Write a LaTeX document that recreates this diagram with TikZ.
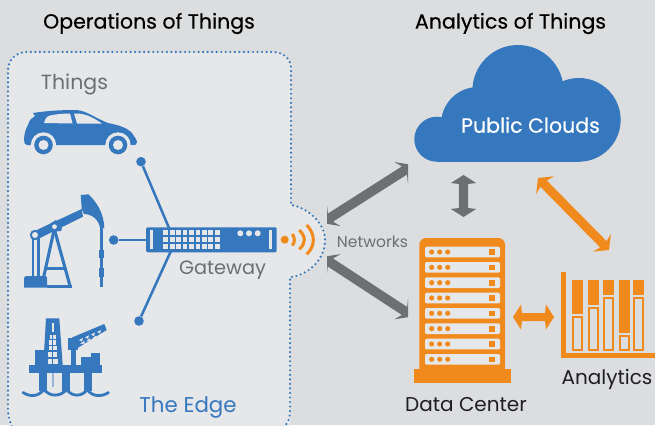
\documentclass[tikz,border=0pt]{standalone}
\usepackage{fontspec}
\setmainfont{Poppins}
\newfontfamily\medfont[FakeBold=0.35]{Poppins}
\usetikzlibrary{calc}
\definecolor{bggray}{HTML}{DCDDDF}
\definecolor{edgefill}{HTML}{E6E7E9}
\definecolor{bluemain}{HTML}{3578BE}
\definecolor{orangemain}{HTML}{F08A1D}
\definecolor{arrowgray}{HTML}{6E6F72}
\definecolor{labelgray}{HTML}{6D6E71}
\definecolor{darktext}{HTML}{1E1E20}
\tikzset{
  x=0.75pt,y=-0.75pt,
  title/.style={font=\medfont\fontsize{15.4}{17}\selectfont,text=black,anchor=center,inner sep=0},
  lab/.style={font=\fontsize{15}{17}\selectfont,text=labelgray,anchor=center,inner sep=0},
  dark/.style={font=\fontsize{15}{17}\selectfont,text=darktext,anchor=center,inner sep=0},
  wire/.style={draw=bluemain,line width=1.9pt},
  dot/.style={circle,fill=bluemain,inner sep=0,minimum size=7.2pt},
  jackline/.style={draw=bluemain,line width=2.3pt},
  wifi/.style={draw=orangemain,line width=2.3pt},
}
% double arrow between A and B; shaft half width, head half width, head length, neck position, in pixels
\newcommand{\dblarrow}[7][arrowgray]{%
 \fill[#1] let \p1=(#2),\p2=(#3),\n1={atan2(\y2-\y1,\x2-\x1)},\n2={veclen(\x2-\x1,\y2-\y1)},
  \n3={0.75*#4},\n4={0.75*#5},\n5={0.75*#6},\n6={0.75*#7} in
  [shift={(\p1)},rotate=\n1,x=1pt,y=1pt]
  (0,0) -- ({\n5},{-\n4}) -- ({\n6},{-\n3}) -- ({\n2-\n6},{-\n3}) -- ({\n2-\n5},{-\n4}) -- ({\n2},0)
  -- ({\n2-\n5},{\n4}) -- ({\n2-\n6},{\n3}) -- ({\n6},{\n3}) -- ({\n5},{\n4}) -- cycle;}
\begin{document}
\begin{tikzpicture}
\useasboundingbox (0,0) rectangle (655,425);
\fill[bggray] (0,0) rectangle (655,425);
% edge panel
\fill[edgefill] (8,430) -- (8,70) .. controls (8,60) and (16,52) .. (27,52) -- (272,52)
 .. controls (283,52) and (291,58) .. (291,69) -- (291,205)
 .. controls (306,207) and (325,222) .. (325,240)
 .. controls (325,262) and (305,276) .. (290,277) -- (290,430) -- cycle;
\draw[bluemain,line width=1.8pt,dash pattern=on 0pt off 3.4pt,line cap=round]
 (283,427) .. controls (288,424) and (290,418) .. (290,410) -- (290,277)
 .. controls (305,276) and (325,262) .. (325,240)
 .. controls (325,222) and (306,207) .. (291,205) -- (291,69)
 .. controls (291,58) and (283,52) .. (272,52) -- (27,52)
 .. controls (16,52) and (8,60) .. (8,70) -- (8,410) .. controls (8,416) and (10,422) .. (12,427);
% titles and labels
\node[title] (t1) at (149,23.5) {Operations of Things};
\node[title] (t2) at (510.5,23.5) {Analytics of Things};
\node[font=\fontsize{15.4}{17}\selectfont,text=labelgray,inner sep=0] (things) at (74.5,84.5) {Things};
\node[font=\fontsize{14.5}{17}\selectfont,text=labelgray,inner sep=0] (gwlabel) at (222.5,270.5) {Gateway};
\node[font=\fontsize{16}{18}\selectfont,text=bluemain,inner sep=0] (edge) at (188,407.5) {The Edge};
\node[font=\fontsize{11.7}{13}\selectfont,text=labelgray,inner sep=0] (net) at (372.5,242) {Networks};
\node[dark] (dclabel) at (466,405) {Data Center};
\node[dark] (anlabel) at (607,379.5) {Analytics};
% car
\fill[bluemain] (24,140) .. controls (24,134) and (26,128) .. (28,125)
 .. controls (29,120) and (32,118) .. (35,116) -- (33,113)
 .. controls (45,111) and (60,110) .. (74,110)
 .. controls (86,110) and (91,116) .. (108,123)
 .. controls (118,125) and (130,128) .. (134,136)
 .. controls (136,139) and (137,141) .. (137,142)
 .. controls (137,145) and (135,145) .. (133,145) -- (27,145)
 .. controls (25,145) and (24,143) .. (24,140) -- cycle;
\fill[edgefill] (44,123) .. controls (45,119) and (47,116) .. (50,115.5) .. controls (57,114) and (63,113.5) .. (70,113.5) -- (72.5,123.5) -- cycle;
\fill[edgefill] (74,113.5) .. controls (85,113) and (92,117) .. (102,123.5) -- (77,123.5) -- cycle;
\fill[edgefill] (43.5,145) circle[radius=12.7];
\fill[edgefill] (118,145) circle[radius=12.7];
\fill[bluemain] (43.5,145) circle[radius=9.3];
\fill[edgefill] (43.5,145) circle[radius=5];
\fill[bluemain] (118,145) circle[radius=9.3];
\fill[edgefill] (118,145) circle[radius=5];
% pump jack
\fill[bluemain] (24,287.5) -- (24,278.5) .. controls (24,277) and (25,276) .. (27,276) -- (45,276) .. controls (47,276) and (47,277) .. (47,279) -- (47,287.5) -- cycle;
\fill[bluemain] (31.7,238) rectangle (34.3,277);
\fill[bluemain] (37.3,238) rectangle (40,277);
\draw[jackline] (54.3,229) -- (43,280);
\draw[jackline] (54.3,229) -- (70.3,287);
\fill[bluemain] (47,266.5) rectangle (65,269.5);
\fill[bluemain] (47,284.5) rectangle (72,287.5);
\fill[bluemain] (36.7,230) -- (81.7,209) -- (83,216.7) -- (38,239) -- cycle;
\fill[bluemain] (48,225) -- (56,220) -- (62,228) -- (61,231) -- (49,232) -- cycle;
\fill[bluemain] (81.7,209) -- (80.7,195) -- (88.3,194.3) .. controls (96,201) and (104,213) .. (104.3,228) -- (100,228)
 .. controls (99,220) and (92,214) .. (84,214) -- cycle;
\fill[bluemain] (100,228) rectangle (102.7,287);
\fill[bluemain] (99,250) rectangle (104,258);
\fill[bluemain] (99,268) rectangle (104,277);
\fill[bluemain] (35,235) circle[radius=5.2];
\fill[edgefill] (35,235) circle[radius=3];
\fill[bluemain] (54.5,226.7) circle[radius=4.6];
\fill[edgefill] (54.5,226.7) circle[radius=2.4];
% oil rig
\fill[bluemain] (29.3,365) rectangle (101.7,372.7);
\fill[bluemain] (35.3,350) rectangle (45,365);
\fill[bluemain] (81,356.7) rectangle (100,365);
\fill[bluemain] (91,352.7) rectangle (100,357);
\fill[bluemain] (43.3,365) -- (46,318.3) -- (59.3,318.3) -- (62.7,365) -- cycle;
\fill[bluemain] (71,345) rectangle (75.7,365);
\fill[bluemain] (68.3,338) rectangle (78.3,350);
\fill[bluemain] (72,337.5) -- (104.3,324) -- (106.7,330) -- (76,349) -- cycle;
\foreach \a/\b in {79/340,85/337.3,91/334.6,97/332}{
  \fill[edgefill] (\a,\b) -- ++(4,-2) -- ++(-1,3.5) -- cycle;
  \fill[edgefill] (\a+1,\b+4) -- ++(4,-3) -- ++(1,2.5) -- cycle;}
\fill[edgefill] (51.7,323) rectangle (54,332);
\foreach \y/\h/\l/\r in {335/4/49.5/55.5,340.3/4.3/49/56,345.7/4.5/48.7/56.5,351.7/5.3/48.3/57,359.3/5/48/57.5}{
  \fill[edgefill] (\l,\y) rectangle (52.3,{\y+\h});
  \fill[edgefill] (53.3,\y) rectangle (\r,{\y+\h});}
\fill[bluemain] (39,372.7) rectangle (47.3,391);
\fill[bluemain] (61.7,372.7) rectangle (70,391);
\fill[bluemain] (84,372.7) rectangle (92.3,391);
\fill[edgefill!55!bluemain] (52.3,372.7) rectangle (54,386.7);
\draw[bluemain,line width=2.1pt,line cap=round] (23,392.5) .. controls (30,397) and (38,397) .. (44,389.5) .. controls (50,397) and (60,397) .. (66.7,389.5) .. controls (72,397) and (82,397) .. (87.3,389.5) .. controls (92,397) and (102,397) .. (108.5,392.5);
% gateway
\path[fill=bluemain,rounded corners=1pt] (146,227.3) rectangle (276.7,252.3);
\node[inner sep=0,minimum size=0pt] (gateway) at (211.3,239.8) {};
\foreach \y in {230,237,244.2}\foreach \c in {0,...,8}{\fill[edgefill] ({163.3+6.45*\c},\y) rectangle ++(4.8,5.1);}
\foreach \x in {240.3,249,257.7}{\fill[edgefill] (\x,233.3) circle[radius=3];}
\fill[edgefill] (150,230) rectangle (153.3,249.3);
\fill[edgefill] (269,230) rectangle (272.3,249.3);
% wifi
\fill[orangemain] (284.7,239.7) circle[radius=4];
\draw[wifi] (292.3,234) .. controls (295,237) and (295,243) .. (292.3,245.5);
\draw[wifi] (299.3,230) .. controls (306,237) and (306,243) .. (299.3,249.3);
\draw[wifi] (306.7,225) .. controls (315.5,234) and (315.5,246) .. (306.7,254.3);
% connector lines
\node[dot] (d1) at (141,161.7) {};
\node[dot] (d2) at (113.7,240) {};
\node[dot] (d3) at (139,321) {};
\coordinate (j1) at (169,228);
\coordinate (j3) at (170.7,251.5);
\coordinate (j2) at (147,240);
\draw[wire] (d1) -- (j1);
\draw[wire] (d3) -- (j3);
\draw[wire] (d2) -- (j2);
% cloud
\fill[bluemain] (436.8,139.2) circle[radius=22.5];
\fill[bluemain] (478,124) circle[radius=37];
\fill[bluemain] (518,90.6) circle[radius=45.6];
\fill[bluemain] (578.8,119.85) circle[radius=41.85];
\fill[bluemain] (436.8,120) rectangle (580,161.7);
\node[font=\medfont\fontsize{15.4}{17}\selectfont,text=white,inner sep=0] (pc) at (530.5,125) {Public Clouds};
% arrows
\begin{scope}
\clip (327,0) rectangle (408,425);
\coordinate (a1) at (322,223); \coordinate (a1b) at (413,165);
\coordinate (a2) at (322,257); \coordinate (a2b) at (413,316.5);
\dblarrow{a1}{a1b}{4.8}{12.6}{14}{10}
\dblarrow{a2}{a2b}{4.8}{12.6}{14}{10}
\end{scope}
\coordinate (a3) at (463.5,175); \coordinate (a3b) at (463.5,217);
\dblarrow{a3}{a3b}{4.7}{12.7}{8}{9}
\coordinate (a4) at (538,178); \coordinate (a4b) at (609,250);
\dblarrow[orangemain]{a4}{a4b}{4.5}{12.5}{10}{8}
\coordinate (a5) at (513,317); \coordinate (a5b) at (554,317);
\dblarrow[orangemain]{a5}{a5b}{4}{12.5}{8}{9}
% data center
\fill[orangemain,rounded corners=5pt] (419.3,375) -- (419.3,238) -- (505,238) -- (505,375) -- cycle;
\fill[orangemain] (414,369.3) rectangle (510.7,383.3);
\foreach \i in {0,...,7}{
 \pgfmathsetmacro{\yy}{246.7+15.33*\i}
 \fill[edgefill,rounded corners=1pt] (425,\yy) rectangle (500,{\yy+10.7});
 \foreach \x in {431.7,439.7,447.7}{\fill[orangemain] (\x,{\yy+5.3}) circle[radius=2.6];}
 \fill[orangemain] (489,{\yy+2.5}) rectangle (495,{\yy+8.3});
}
% analytics chart
\fill[orangemain] (561.3,272.3) rectangle (566,358.3);
\fill[orangemain] (561.3,353.3) rectangle (655,358.3);
\foreach \x/\yb/\yo in {572/314/315.7,588/305/306.7,603/295/296.7,619/333.3/335,633/295/296.7}{
 \fill[orangemain] (\x,280) rectangle ({\x+11},\yb);
 \draw[orangemain,line width=1.5pt] ({\x+1},{\yo+1}) rectangle ({\x+10},350);
}
\end{tikzpicture}
\end{document}
